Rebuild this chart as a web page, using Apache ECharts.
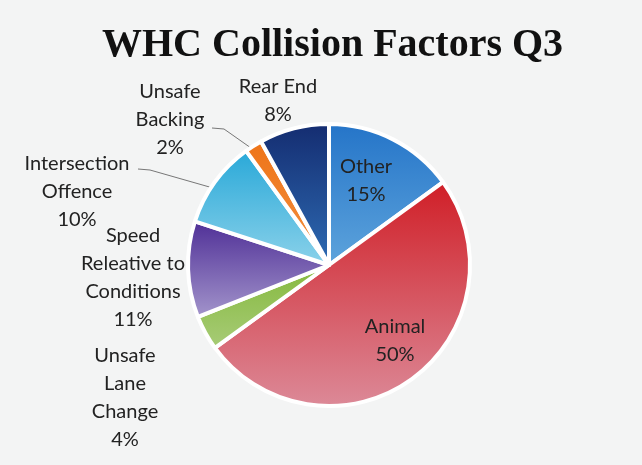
<!DOCTYPE html>
<html>
<head>
<meta charset="utf-8">
<script src="https://cdn.jsdelivr.net/npm/echarts@6/dist/echarts.min.js"></script>
<style>
  html, body { margin: 0; padding: 0; background: #f3f4f4; }
  #chart { width: 642px; height: 465px; }
</style>
</head>
<body>
<div id="chart"></div>
<script>
// data (clockwise from 12 o'clock)
var categories = ['Other', 'Animal', 'Unsafe\nLane\nChange', 'Speed\nReleative to\nConditions', 'Intersection\nOffence', 'Unsafe\nBacking', 'Rear End'];
var values = [15, 50, 4, 11, 10, 2, 8];

// slice colours: [top, bottom] of each gradient
var colors = [
  ['#2474c8', '#5ea4dc'],
  ['#d01e26', '#dc8a98'],
  ['#84b83c', '#a8cc78'],
  ['#4e2e96', '#a496cc'],
  ['#28a8d8', '#8cd2ea'],
  ['#ee7418', '#f39040'],
  ['#142c70', '#2e6cb4']
];
// where each label sits (centre of the text block)
var labelPos = [
  [366, 181], [395, 341], [125, 398], [133, 278], [77, 192], [170, 120], [278, 101]
];
// leader lines for the two labels that have one
var linePts = {
  4: [[138, 169], [150, 170], [213, 188]],
  5: [[212, 128], [224, 129], [251, 148]]
};

var myChart = echarts.init(document.getElementById('chart'));

var seriesData = values.map(function (v, i) {
  return {
    name: categories[i],
    value: v,
    itemStyle: {
      color: new echarts.graphic.LinearGradient(0, 0, 0, 1, [
        { offset: 0, color: colors[i][0] },
        { offset: 1, color: colors[i][1] }
      ])
    },
    labelLine: { show: !!linePts[i] }
  };
});

var option = {
  backgroundColor: '#f3f4f4',
  title: {
    text: 'WHC Collision Factors Q3',
    left: 97,
    top: 21,
    textStyle: {
      fontFamily: 'Liberation Serif',
      fontWeight: 'bold',
      fontSize: 40,
      color: '#111'
    }
  },
  series: [
    {
      type: 'pie',
      center: [329, 265],
      radius: 141,
      startAngle: 90,
      clockwise: true,
      data: seriesData,
      itemStyle: {
        borderColor: '#ffffff',
        borderWidth: 4
      },
      label: {
        show: true,
        position: 'outside',
        formatter: function (p) { return p.name + '\n' + p.value + '%'; },
        fontFamily: 'Lato',
        fontSize: 20,
        lineHeight: 28,
        color: '#222',
        align: 'center'
      },
      labelLine: {
        lineStyle: { color: '#777', width: 1 },
        length: 10,
        length2: 10
      },
      labelLayout: function (params) {
        var i = params.dataIndex;
        var p = labelPos[i];
        var res = {
          x: p[0],
          y: p[1],
          align: 'center',
          verticalAlign: 'middle'
        };
        if (linePts[i]) {
          res.labelLinePoints = linePts[i];
        }
        return res;
      }
    }
  ]
};

myChart.setOption(option);
</script>
</body>
</html>
